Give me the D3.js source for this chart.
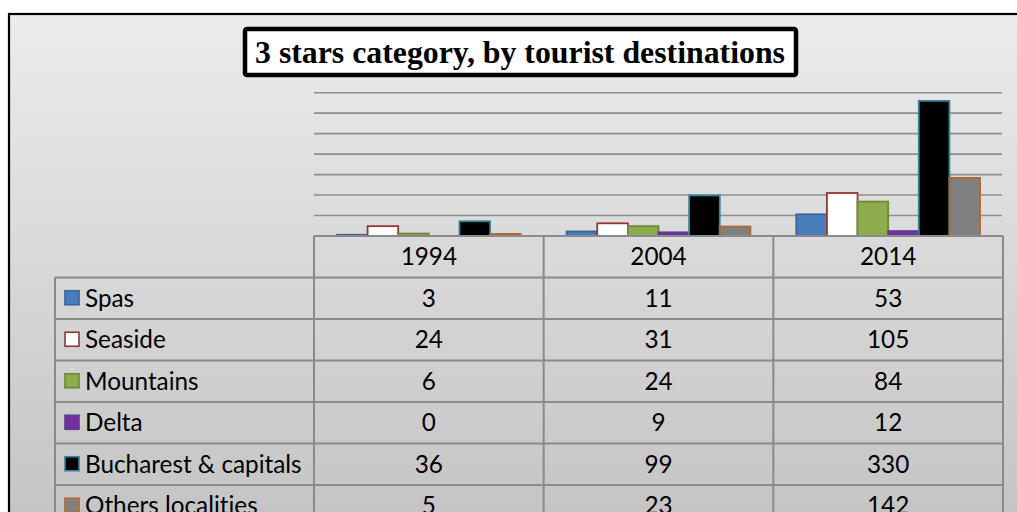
<!DOCTYPE html>
<html>
<head>
<meta charset="utf-8">
<script src="https://cdn.jsdelivr.net/npm/d3@7"></script>
<style>
  body { margin: 0; background: #fff; }
  text { font-variant-ligatures: none; }
</style>
</head>
<body>
<div id="chart"></div>
<script>
// data
const years = ["1994", "2004", "2014"];
const series = ["Spas", "Seaside", "Mountains", "Delta", "Bucharest & capitals", "Others localities"];
const spas = [3, 11, 53];
const seaside = [24, 31, 105];
const mountains = [6, 24, 84];
const delta = [0, 9, 12];
const bucharest = [36, 99, 330];
const others = [5, 23, 142];
const yTicks = [0, 50, 100, 150, 200, 250, 300, 350];

const values = [spas, seaside, mountains, delta, bucharest, others];
const fills = ["#4a7ebb", "#ffffff", "#8eac4e", "#7030a0", "#000000", "#808080"];
const strokes = ["#3a6399", "#943634", "#6b8a32", "#5e3a8c", "#31849b", "#b4652a"];

const W = 1017, H = 512;
const svg = d3.select("#chart").append("svg")
    .attr("width", W).attr("height", H);

// background gradient of the chart area
const defs = svg.append("defs");
const grad = defs.append("linearGradient")
    .attr("id", "bg").attr("x1", 0).attr("y1", 0).attr("x2", 0).attr("y2", 1);
grad.append("stop").attr("offset", "0%").attr("stop-color", "#ececec");
grad.append("stop").attr("offset", "100%").attr("stop-color", "#c2c2c2");

svg.append("rect")
    .attr("x", 9).attr("y", 14)
    .attr("width", W + 20).attr("height", H + 20)
    .attr("fill", "url(#bg)")
    .attr("stroke", "#000").attr("stroke-width", 2.2);

// plot area
const plotLeft = 314, plotRight = 1003, plotTop = 92.7, base = 236;
const rowH = 41.5, labelX = 55;

const x0 = d3.scaleBand().domain(years).range([plotLeft, plotRight]);
const cw = x0.bandwidth();
const x1 = d3.scaleBand().domain(series).range([cw * 0.1, cw * 0.9]);
const y = d3.scaleLinear().domain([0, 350]).range([base, plotTop]);

// gridlines
svg.append("g")
    .selectAll("line")
    .data(yTicks.filter(t => t > 0))
    .enter()
    .append("line")
        .attr("x1", plotLeft).attr("x2", plotRight - 1)
        .attr("y1", d => y(d)).attr("y2", d => y(d))
        .attr("stroke", "#8e8e8e").attr("stroke-width", 1.6);

// bars
const bars = [];
series.forEach((s, i) => {
    years.forEach((yr, j) => {
        bars.push({s: s, i: i, yr: yr, v: values[i][j]});
    });
});

svg.append("g")
    .selectAll("rect")
    .data(bars.filter(d => d.v > 0))
    .enter()
    .append("rect")
        .attr("x", d => x0(d.yr) + x1(d.s))
        .attr("y", d => y(d.v))
        .attr("width", x1.bandwidth())
        .attr("height", d => base - y(d.v))
        .attr("fill", d => fills[d.i])
        .attr("stroke", d => strokes[d.i])
        .attr("stroke-width", 1.8);

// data table
const table = svg.append("g");
const lineColor = "#8a8a8a";
const tableBottom = base + rowH * (series.length + 1);

// horizontal lines
table.append("line")
    .attr("x1", plotLeft).attr("x2", plotRight)
    .attr("y1", base).attr("y2", base)
    .attr("stroke", lineColor).attr("stroke-width", 2.2);
d3.range(1, series.length + 2).forEach(k => {
    table.append("line")
        .attr("x1", labelX).attr("x2", plotRight)
        .attr("y1", base + rowH * k).attr("y2", base + rowH * k)
        .attr("stroke", lineColor).attr("stroke-width", 2);
});
// vertical lines
[plotLeft, x0("2004"), x0("2014"), plotRight].forEach(xv => {
    table.append("line")
        .attr("x1", xv).attr("x2", xv)
        .attr("y1", base).attr("y2", tableBottom)
        .attr("stroke", lineColor).attr("stroke-width", 2);
});
table.append("line")
    .attr("x1", labelX).attr("x2", labelX)
    .attr("y1", base + rowH).attr("y2", tableBottom)
    .attr("stroke", lineColor).attr("stroke-width", 2);

const font = "Lato, 'Open Sans', sans-serif";
const fs = 24.3;

// year header
table.selectAll(".yr")
    .data(years)
    .enter()
    .append("text")
        .attr("x", d => x0(d) + cw / 2)
        .attr("y", base + rowH / 2 + 8.5)
        .attr("text-anchor", "middle")
        .style("font-family", font).style("font-size", fs + "px")
        .attr("fill", "#000")
        .text(d => d);

// rows
series.forEach((s, i) => {
    const cy = base + rowH * (i + 1) + rowH / 2;
    table.append("rect")
        .attr("x", 65).attr("y", cy - 7.5)
        .attr("width", 14).attr("height", 14)
        .attr("fill", fills[i]).attr("stroke", strokes[i]).attr("stroke-width", 1.6);
    table.append("text")
        .attr("x", 85).attr("y", cy + 8.5)
        .style("font-family", font).style("font-size", fs + "px")
        .attr("fill", "#000")
        .text(s);
    years.forEach((yr, j) => {
        table.append("text")
            .attr("x", x0(yr) + cw / 2).attr("y", cy + 8.5)
            .attr("text-anchor", "middle")
            .style("font-family", font).style("font-size", fs + "px")
            .attr("fill", "#000")
            .text(values[i][j]);
    });
});

// title box
svg.append("rect")
    .attr("x", 245).attr("y", 29)
    .attr("width", 551).attr("height", 46)
    .attr("rx", 2)
    .attr("fill", "#fff")
    .attr("stroke", "#000").attr("stroke-width", 4.5);
svg.append("text")
    .attr("x", 520).attr("y", 62.5)
    .attr("text-anchor", "middle")
    .style("font-family", "'Liberation Serif', 'Times New Roman', serif")
    .style("font-weight", "bold").style("font-size", "31.8px")
    .attr("fill", "#000")
    .text("3 stars category, by tourist destinations");
</script>
</body>
</html>
